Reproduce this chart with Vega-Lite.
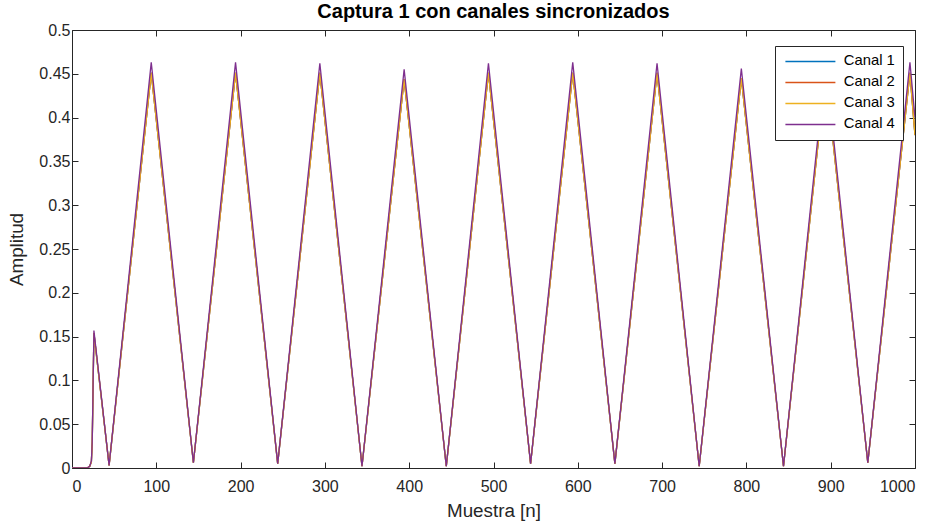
{
  "$schema": "https://vega.github.io/schema/vega-lite/v6.json",
  "width": 843,
  "height": 438,
  "autosize": {"type": "none"},
  "padding": {"left": 72, "top": 30, "right": 21, "bottom": 61},
  "background": "white",
  "config": {
    "font": "Liberation Sans",
    "view": {"stroke": "#262626", "strokeWidth": 1},
    "axis": {"domain": false, "grid": false, "tickColor": "#262626", "labelColor": "#262626", "titleColor": "#262626", "labelFontSize": 16, "titleFontSize": 18.8, "titleFontWeight": "normal", "tickSize": -6, "tickWidth": 1}
  },
  "title": {"text": "Captura 1 con canales sincronizados", "fontSize": 20, "fontWeight": "bold", "color": "#000000", "anchor": "middle", "offset": 0},
  "datasets": {
    "d": [
      {"canal": "Canal 1", "x": 0, "y": 0}, {"canal": "Canal 1", "x": 18, "y": 0}, {"canal": "Canal 1", "x": 21, "y": 0.002}, {"canal": "Canal 1", "x": 23, "y": 0.007}, {"canal": "Canal 1", "x": 24, "y": 0.03}, {"canal": "Canal 1", "x": 26, "y": 0.154},
      {"canal": "Canal 1", "x": 44, "y": 0.003}, {"canal": "Canal 1", "x": 94, "y": 0.451}, {"canal": "Canal 1", "x": 144, "y": 0.006}, {"canal": "Canal 1", "x": 194, "y": 0.451}, {"canal": "Canal 1", "x": 244, "y": 0.005}, {"canal": "Canal 1", "x": 294, "y": 0.451}, {"canal": "Canal 1", "x": 344, "y": 0.002}, {"canal": "Canal 1", "x": 394, "y": 0.444}, {"canal": "Canal 1", "x": 444, "y": 0.002}, {"canal": "Canal 1", "x": 494, "y": 0.451}, {"canal": "Canal 1", "x": 544, "y": 0.005}, {"canal": "Canal 1", "x": 594, "y": 0.451}, {"canal": "Canal 1", "x": 644, "y": 0.005}, {"canal": "Canal 1", "x": 694, "y": 0.451}, {"canal": "Canal 1", "x": 744, "y": 0.002}, {"canal": "Canal 1", "x": 794, "y": 0.445}, {"canal": "Canal 1", "x": 844, "y": 0.002}, {"canal": "Canal 1", "x": 894, "y": 0.451}, {"canal": "Canal 1", "x": 944, "y": 0.006}, {"canal": "Canal 1", "x": 994, "y": 0.451}, {"canal": "Canal 1", "x": 1000, "y": 0.38},
      {"canal": "Canal 2", "x": 0, "y": 0}, {"canal": "Canal 2", "x": 18, "y": 0}, {"canal": "Canal 2", "x": 21, "y": 0.002}, {"canal": "Canal 2", "x": 23, "y": 0.007}, {"canal": "Canal 2", "x": 24, "y": 0.03}, {"canal": "Canal 2", "x": 26, "y": 0.154},
      {"canal": "Canal 2", "x": 44, "y": 0.003}, {"canal": "Canal 2", "x": 94, "y": 0.451}, {"canal": "Canal 2", "x": 144, "y": 0.006}, {"canal": "Canal 2", "x": 194, "y": 0.451}, {"canal": "Canal 2", "x": 244, "y": 0.005}, {"canal": "Canal 2", "x": 294, "y": 0.451}, {"canal": "Canal 2", "x": 344, "y": 0.002}, {"canal": "Canal 2", "x": 394, "y": 0.444}, {"canal": "Canal 2", "x": 444, "y": 0.002}, {"canal": "Canal 2", "x": 494, "y": 0.451}, {"canal": "Canal 2", "x": 544, "y": 0.005}, {"canal": "Canal 2", "x": 594, "y": 0.451}, {"canal": "Canal 2", "x": 644, "y": 0.005}, {"canal": "Canal 2", "x": 694, "y": 0.451}, {"canal": "Canal 2", "x": 744, "y": 0.002}, {"canal": "Canal 2", "x": 794, "y": 0.445}, {"canal": "Canal 2", "x": 844, "y": 0.002}, {"canal": "Canal 2", "x": 894, "y": 0.451}, {"canal": "Canal 2", "x": 944, "y": 0.006}, {"canal": "Canal 2", "x": 994, "y": 0.451}, {"canal": "Canal 2", "x": 1000, "y": 0.38},
      {"canal": "Canal 3", "x": 0, "y": 0}, {"canal": "Canal 3", "x": 18, "y": 0}, {"canal": "Canal 3", "x": 21, "y": 0.002}, {"canal": "Canal 3", "x": 23, "y": 0.007}, {"canal": "Canal 3", "x": 24, "y": 0.03}, {"canal": "Canal 3", "x": 26, "y": 0.154},
      {"canal": "Canal 3", "x": 44, "y": 0.003}, {"canal": "Canal 3", "x": 94, "y": 0.451}, {"canal": "Canal 3", "x": 144, "y": 0.006}, {"canal": "Canal 3", "x": 194, "y": 0.451}, {"canal": "Canal 3", "x": 244, "y": 0.005}, {"canal": "Canal 3", "x": 294, "y": 0.451}, {"canal": "Canal 3", "x": 344, "y": 0.002}, {"canal": "Canal 3", "x": 394, "y": 0.444}, {"canal": "Canal 3", "x": 444, "y": 0.002}, {"canal": "Canal 3", "x": 494, "y": 0.451}, {"canal": "Canal 3", "x": 544, "y": 0.005}, {"canal": "Canal 3", "x": 594, "y": 0.451}, {"canal": "Canal 3", "x": 644, "y": 0.005}, {"canal": "Canal 3", "x": 694, "y": 0.451}, {"canal": "Canal 3", "x": 744, "y": 0.002}, {"canal": "Canal 3", "x": 794, "y": 0.445}, {"canal": "Canal 3", "x": 844, "y": 0.002}, {"canal": "Canal 3", "x": 894, "y": 0.451}, {"canal": "Canal 3", "x": 944, "y": 0.006}, {"canal": "Canal 3", "x": 994, "y": 0.451}, {"canal": "Canal 3", "x": 1000, "y": 0.38},
      {"canal": "Canal 4", "x": 0, "y": 0}, {"canal": "Canal 4", "x": 18, "y": 0}, {"canal": "Canal 4", "x": 21, "y": 0.002}, {"canal": "Canal 4", "x": 23, "y": 0.008}, {"canal": "Canal 4", "x": 24, "y": 0.03}, {"canal": "Canal 4", "x": 26, "y": 0.157},
      {"canal": "Canal 4", "x": 44, "y": 0.003}, {"canal": "Canal 4", "x": 94, "y": 0.463}, {"canal": "Canal 4", "x": 144, "y": 0.006}, {"canal": "Canal 4", "x": 194, "y": 0.463}, {"canal": "Canal 4", "x": 244, "y": 0.005}, {"canal": "Canal 4", "x": 294, "y": 0.462}, {"canal": "Canal 4", "x": 344, "y": 0.002}, {"canal": "Canal 4", "x": 394, "y": 0.455}, {"canal": "Canal 4", "x": 444, "y": 0.002}, {"canal": "Canal 4", "x": 494, "y": 0.462}, {"canal": "Canal 4", "x": 544, "y": 0.005}, {"canal": "Canal 4", "x": 594, "y": 0.463}, {"canal": "Canal 4", "x": 644, "y": 0.005}, {"canal": "Canal 4", "x": 694, "y": 0.462}, {"canal": "Canal 4", "x": 744, "y": 0.002}, {"canal": "Canal 4", "x": 794, "y": 0.456}, {"canal": "Canal 4", "x": 844, "y": 0.002}, {"canal": "Canal 4", "x": 894, "y": 0.462}, {"canal": "Canal 4", "x": 944, "y": 0.006}, {"canal": "Canal 4", "x": 994, "y": 0.463}, {"canal": "Canal 4", "x": 1000, "y": 0.40}
    ]
  },
  "data": {"name": "d"},
  "layer": [
    {
      "mark": {"type": "line", "strokeWidth": 1.3, "clip": true},
      "encoding": {
        "x": {"field": "x", "type": "quantitative", "scale": {"domain": [0, 1000], "nice": false, "zero": false}, "axis": {"values": [0,100,200,300,400,500,600,700,800,900,1000], "format": "d", "title": "Muestra [n]", "labelPadding": 16, "titlePadding": 7}},
        "y": {"field": "y", "type": "quantitative", "scale": {"domain": [0, 0.5], "nice": false}, "axis": {"values": [0,0.05,0.1,0.15,0.2,0.25,0.3,0.35,0.4,0.45,0.5], "format": "~g", "title": "Amplitud", "labelPadding": 8, "titlePadding": 12}},
        "color": {"field": "canal", "type": "nominal", "scale": {"domain": ["Canal 1", "Canal 2", "Canal 3", "Canal 4"], "range": ["#0072BD", "#D95319", "#EDB120", "#7E2F8E"]},
          "legend": {"title": null, "orient": "none", "legendX": 703, "legendY": 16, "fillColor": "white", "strokeColor": "#262626", "padding": 8, "symbolType": "M-5,0H5", "symbolSize": 100, "symbolStrokeWidth": 1.5, "symbolOffset": 20, "labelFontSize": 14.8, "labelColor": "#000000", "rowPadding": 5, "labelOffset": 26, "cornerRadius": 0}}
      }
    },
    {
      "mark": {"type": "point", "opacity": 0},
      "encoding": {
        "x": {"field": "x", "type": "quantitative", "axis": {"orient": "top", "values": [0,100,200,300,400,500,600,700,800,900,1000], "labels": false, "title": null}},
        "y": {"field": "y", "type": "quantitative", "axis": {"orient": "right", "values": [0,0.05,0.1,0.15,0.2,0.25,0.3,0.35,0.4,0.45,0.5], "labels": false, "title": null}}
      }
    }
  ],
  "resolve": {"axis": {"x": "independent", "y": "independent"}}
}
